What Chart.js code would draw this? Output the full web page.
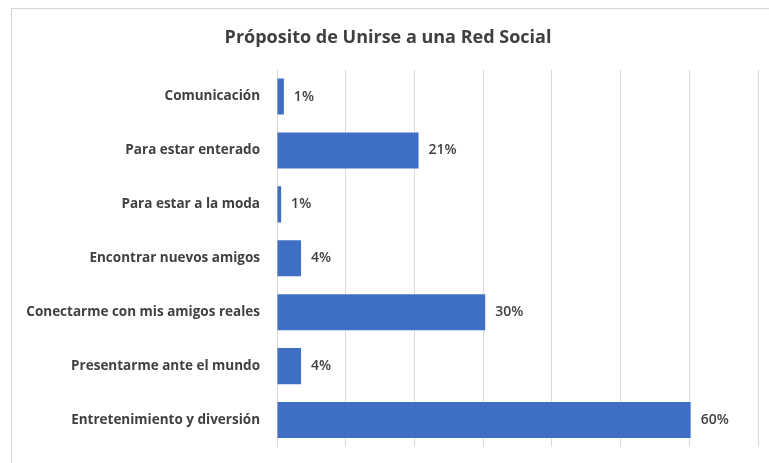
<!DOCTYPE html>
<html lang="es">
<head>
  <meta charset="UTF-8">
  <title>Propósito de Unirse a una Red Social</title>
  <script src="https://cdn.jsdelivr.net/npm/chart.js"></script>
  <style>
    body {
      margin: 0;
      background: #fff;
    }

    .frame {
      position: absolute;
      left: 11px;
      top: 8px;
      width: 800px;
      height: 500px;
      border: 1px solid #d4d4d4;
    }

    .chart-box {
      position: absolute;
      left: 0;
      top: 0;
      width: 769px;
      height: 463px;
    }
  </style>
</head>
<body>

  <div class="frame"></div>
  <div class="chart-box">
    <canvas id="redChart"></canvas>
  </div>

  <script>
    // categories top to bottom, percent values
    const categories = [
      'Comunicación',
      'Para estar enterado',
      'Para estar a la moda',
      'Encontrar nuevos amigos',
      'Conectarme con mis amigos reales',
      'Presentarme ante el mundo',
      'Entretenimiento y diversión'
    ];
    const percents = [1, 20.6, 0.6, 3.5, 30.3, 3.5, 60.2];
    const labelsShown = ['1%', '21%', '1%', '4%', '30%', '4%', '60%'];

    const textColor = '#404040';

    // draws the value label just right of each bar
    const barLabels = {
      id: 'barLabels',
      afterDatasetsDraw(chart) {
        const ctx = chart.ctx;
        const meta = chart.getDatasetMeta(0);
        ctx.save();
        ctx.font = '600 14px "Open Sans", sans-serif';
        ctx.fillStyle = textColor;
        ctx.textAlign = 'left';
        ctx.textBaseline = 'middle';
        meta.data.forEach((bar, i) => {
          ctx.fillText(labelsShown[i], bar.x + 10, bar.y);
        });
        ctx.restore();
      }
    };

    new Chart(document.getElementById('redChart'), {
      type: 'bar',
      data: {
        labels: categories,
        datasets: [{
          data: percents,
          backgroundColor: '#3f6fc4',
          categoryPercentage: 1,
          barPercentage: 0.67
        }]
      },
      options: {
        indexAxis: 'y',
        responsive: true,
        maintainAspectRatio: false,
        animation: false,
        layout: {
          padding: { left: 18, right: 11, top: 0, bottom: 16 }
        },
        scales: {
          x: {
            min: 0,
            max: 70,
            afterFit: scale => { scale.height = 0; },
            ticks: { display: false, stepSize: 10 },
            grid: { color: '#d9d9d9', drawTicks: false },
            border: { display: false }
          },
          y: {
            afterFit: scale => {
              scale.width = 259;
              scale.paddingTop = 0;
              scale.paddingBottom = 0;
            },
            grid: { display: false, drawTicks: false },
            border: { display: false },
            ticks: {
              padding: 17,
              color: textColor,
              font: { family: '"Open Sans", sans-serif', size: 13.5, weight: 'bold' }
            }
          }
        },
        plugins: {
          legend: { display: false },
          tooltip: { enabled: false },
          title: {
            display: true,
            text: 'Próposito de Unirse a una Red Social',
            color: textColor,
            font: { family: '"Open Sans", sans-serif', size: 18, weight: 'bold' },
            padding: { top: 27, bottom: 21 }
          }
        }
      },
      plugins: [barLabels]
    });
  </script>

</body>
</html>
